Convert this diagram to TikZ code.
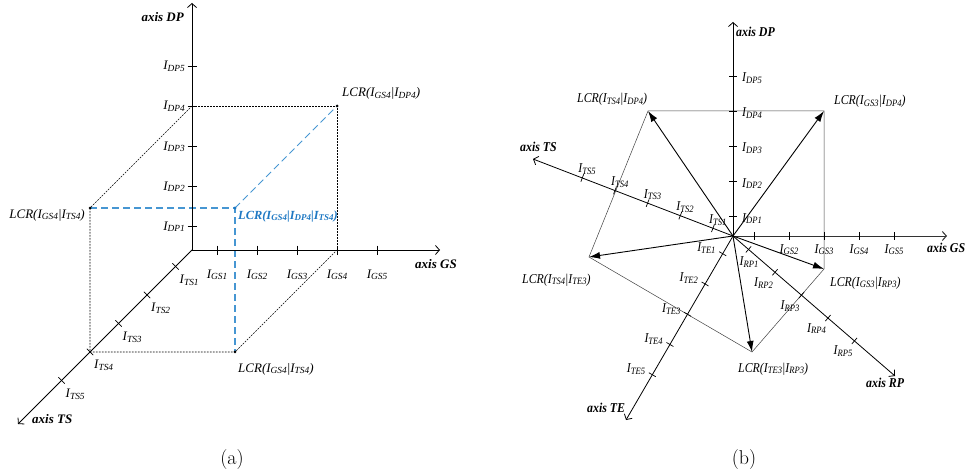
\documentclass[tikz,border=0pt]{standalone}
\usepackage{fontspec}
\usetikzlibrary{arrows.meta,calc}
\newfontfamily\tnr{Liberation Serif}
\newfontfamily\tnrn[FakeStretch=0.88]{Liberation Serif}
\definecolor{lblue}{RGB}{70,150,210}
\definecolor{tblue}{RGB}{30,120,195}
\newcommand\Ib[1]{{\itshape I}\raisebox{-0.3ex}{\scalebox{0.72}{\itshape #1}}}
\newcommand\lcr[1]{{\itshape LCR(#1)}}
\newcommand\axlab[1]{{\bfseries\itshape axis #1}}
\tikzset{
  axisline/.style={line width=0.8pt,-{Straight Barb[length=4pt,width=9pt]}},
  tickmark/.style={line width=0.7pt},
  lblL/.style={font=\tnr\fontsize{13}{15}\selectfont,inner sep=0pt},
  lblR/.style={font=\tnrn\fontsize{13.5}{15}\selectfont,inner sep=0pt},
  cubeline/.style={line width=0.6pt,dash pattern=on 1.8pt off 1.2pt},
  blueline/.style={line width=1.4pt,lblue,dash pattern=on 7pt off 4pt},
  polyline/.style={line width=0.5pt,black!75},
  vec/.style={line width=0.9pt,-{Latex[length=11pt,width=7pt]}},
  captext/.style={font=\fontsize{20}{22}\selectfont,inner sep=0pt}
}
\begin{document}
\begin{tikzpicture}[x=1pt,y=-1pt]
\useasboundingbox (0,0) rectangle (972,476);
% ================= (a) =================
\coordinate (Ol) at (192,250);
\coordinate (DPl) at (192,3);
\coordinate (GSl) at (440,250);
\coordinate (TSl) at (18,424);
\foreach \k/\d in {1/24,2/64,3/104,4/144,5/184}{
  \coordinate (dpl\k) at ($(Ol)!\d pt!(DPl)$);
}
\foreach \k/\d in {1/25,2/65,3/105,4/145,5/185}{
  \coordinate (gsl\k) at ($(Ol)!\d pt!(GSl)$);
}
\foreach \k/\d in {1/23.3,2/63.6,3/103.9,4/144.2,5/184.5}{
  \coordinate (tsl\k) at ($(Ol)!\d pt!(TSl)$);
}
\coordinate (A) at (gsl4 |- dpl4);
\coordinate (B) at (tsl4 |- 0,208);
\coordinate (C) at (235,0 |- tsl4);
\coordinate (D) at (C |- B);
% cube
\draw[cubeline] (dpl4) -- (A) -- (gsl4);
\draw[cubeline] (dpl4) -- (B) -- (tsl4) -- (C) -- (gsl4);
\draw[blueline] (B) -- (D) -- (C);
\draw[blueline,line width=1pt] (D) -- (A);
% axes
\draw[axisline] (Ol) -- (DPl);
\draw[axisline] (Ol) -- (GSl);
\draw[axisline] (Ol) -- (TSl);
\foreach \k in {1,...,5}{
  \draw[tickmark] ($(dpl\k)!4.5pt!90:(DPl)$) -- ($(dpl\k)!4.5pt!-90:(DPl)$);
  \node[lblL,anchor=base east] (ldpl\k) at ([shift={(-7,4)}]dpl\k) {\Ib{DP\k}};
  \draw[tickmark] ($(gsl\k)!4.5pt!90:(GSl)$) -- ($(gsl\k)!4.5pt!-90:(GSl)$);
  \node[lblL,anchor=base] (lgsl\k) at ([shift={(0,28)}]gsl\k) {\Ib{GS\k}};
  \draw[tickmark] ($(tsl\k)!4.5pt!90:(TSl)$) -- ($(tsl\k)!4.5pt!-90:(TSl)$);
  \node[lblL,anchor=base west] (ltsl\k) at ([shift={(4,17)}]tsl\k) {\Ib{TS\k}};
}
\node[lblL,anchor=base east] (adpl) at (184,22) {\axlab{DP}};
\node[lblL,anchor=base west] (agsl) at (415,268) {\axlab{GS}};
\node[lblL,anchor=base west] (atsl) at (32,423) {\axlab{TS}};
% points
\fill (A) circle (1.5);
\fill (B) circle (1.5);
\fill (C) circle (1.5);
\fill[tblue] (D) circle (1.7);
\node[lblL,anchor=base west] (lA) at (342,97) {\lcr{\Ib{GS4}|\Ib{DP4}}};
\node[lblL,anchor=base east] (lB) at (85,218) {\lcr{\Ib{GS4}|\Ib{TS4}}};
\node[lblL,anchor=base west] (lC) at (238,372) {\lcr{\Ib{GS4}|\Ib{TS4}}};
\node[lblL,anchor=base west,text=tblue,font=\tnr\fontsize{12.4}{15}\selectfont\bfseries] (lD) at (238,219) {\lcr{\Ib{GS4}|\Ib{DP4}|\Ib{TS4}}};
\node[captext] (capa) at (232,460) {(a)};
% ================= (b) =================
\coordinate (Or) at (733,236);
\coordinate (DPr) at (733,22);
\coordinate (GSr) at (947,236);
\coordinate (TSr) at (533,159);
\coordinate (TEr) at (626,420);
\coordinate (RPr) at (895,376);
\foreach \k/\d in {1/20,2/55,3/90,4/125,5/160}{
  \coordinate (dpr\k) at ($(Or)!\d pt!(DPr)$);
}
\foreach \k/\d in {1/21,2/56,3/91,4/126,5/161}{
  \coordinate (gsr\k) at ($(Or)!\d pt!(GSr)$);
}
\foreach \k/\d in {1/21.5,2/56.5,3/91.5,4/126.5,5/161.5}{
  \coordinate (tsr\k) at ($(Or)!\d pt!(TSr)$);
}
\foreach \k/\d in {1/20.5,2/55.5,3/90.5,4/125.5,5/160.5}{
  \coordinate (ter\k) at ($(Or)!\d pt!(TEr)$);
  \coordinate (rpr\k) at ($(Or)!\d pt!(RPr)$);
}
\coordinate (P1) at (648,111);
\coordinate (P2) at (824,111);
\coordinate (P3) at (589,257);
\coordinate (P4) at (752,352);
\coordinate (P5) at (824,269);
\draw[polyline] (P1) -- (P2) -- (P5) -- (P4) -- (P3) -- cycle;
\draw[axisline] (Or) -- (DPr);
\draw[axisline,line width=1pt,black!80] (Or) -- (GSr);
\draw[axisline] (Or) -- (TSr);
\draw[axisline] (Or) -- (TEr);
\draw[axisline] (Or) -- (RPr);
\foreach \k in {1,...,5}{
  \draw[tickmark] ($(dpr\k)!4pt!90:(DPr)$) -- ($(dpr\k)!4pt!-90:(DPr)$);
  \node[lblR,anchor=base west] (ldpr\k) at ([shift={(9,6)}]dpr\k) {\Ib{DP\k}};
  \draw[tickmark] ($(gsr\k)!4pt!90:(GSr)$) -- ($(gsr\k)!4pt!-90:(GSr)$);
  \draw[tickmark] ($(tsr\k)!4pt!90:(TSr)$) -- ($(tsr\k)!4pt!-90:(TSr)$);
  \node[lblR,anchor=base west] (ltsr\k) at ([shift={(-4,-5)}]tsr\k) {\Ib{TS\k}};
  \draw[tickmark] ($(ter\k)!4pt!90:(TEr)$) -- ($(ter\k)!4pt!-90:(TEr)$);
  \node[lblR,anchor=base east] (lter\k) at ([shift={(-7,-2)}]ter\k) {\Ib{TE\k}};
  \draw[tickmark] ($(rpr\k)!4pt!90:(RPr)$) -- ($(rpr\k)!4pt!-90:(RPr)$);
}
\foreach \k in {2,...,5}{
  \node[lblR,anchor=base] (lgsr\k) at ([shift={(0,17)}]gsr\k) {\Ib{GS\k}};
  \node[lblR,anchor=base west] (lrpr\k) at ([shift={(-21,14)}]rpr\k) {\Ib{RP\k}};
}
\node[lblR,anchor=base west] (lrpr1) at ([shift={(-9,16)}]rpr1) {\Ib{RP1}};
% vectors
\draw[vec] (Or) -- (P1);
\draw[vec] (Or) -- (P2);
\draw[vec] (Or) -- (P3);
\draw[vec] (Or) -- (P4);
\draw[vec] (Or) -- (P5);
\node[lblR,anchor=base west] (adpr) at (736,37) {\axlab{DP}};
\node[lblR,anchor=base west] (atsr) at (520,152) {\axlab{TS}};
\node[lblR,anchor=base west] (agsr) at (927,252) {\axlab{GS}};
\node[lblR,anchor=base west] (ater) at (587,412) {\axlab{TE}};
\node[lblR,anchor=base west] (arpr) at (866,387) {\axlab{RP}};
\node[lblR,anchor=base west] (lP1) at (577,103) {\lcr{\Ib{TS4}|\Ib{DP4}}};
\node[lblR,anchor=base west] (lP2) at (834,105) {\lcr{\Ib{GS3}|\Ib{DP4}}};
\node[lblR,anchor=base west] (lP3) at (522,283) {\lcr{\Ib{TS4}|\Ib{TE3}}};
\node[lblR,anchor=base west] (lP5) at (830,286) {\lcr{\Ib{GS3}|\Ib{RP3}}};
\node[lblR,anchor=base west] (lP4) at (738,372) {\lcr{\Ib{TE3}|\Ib{RP3}}};
\node[captext] (capb) at (744,460) {(b)};
\end{tikzpicture}
\end{document}
